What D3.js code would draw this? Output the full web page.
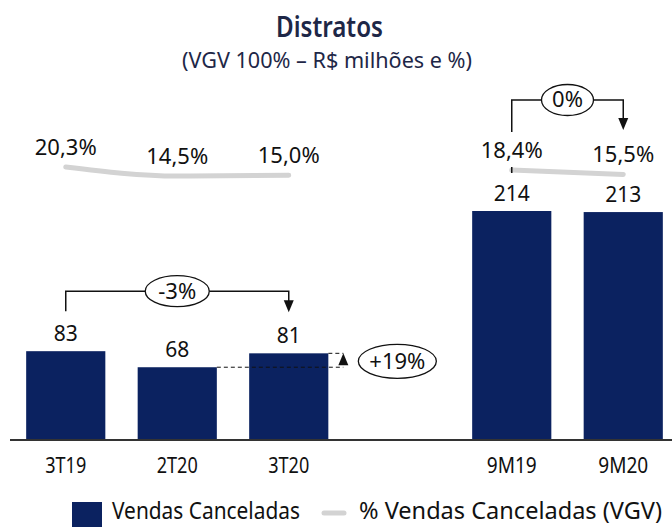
<!DOCTYPE html>
<html>
<head>
<meta charset="utf-8">
<script src="https://cdn.jsdelivr.net/npm/d3@7"></script>
<style>
  html, body { margin: 0; padding: 0; background: #fff; }
  #container { width: 672px; height: 527px; }
  text { font-family: "Noto Sans", "Open Sans", sans-serif; }
</style>
</head>
<body>
<div id="container"></div>
<script>
const width = 672;
const height = 527;

// data
const categories = ["3T19", "2T20", "3T20", "", "9M19", "9M20"];
const quarters = ["3T19", "2T20", "3T20"];
const periods = ["9M19", "9M20"];
const cancelled = { "3T19": 83, "2T20": 68, "3T20": 81, "9M19": 214, "9M20": 213 };
const pctQuarter = [20.3, 14.5, 15.0];
const pctPeriod = [18.4, 15.5];
const changeLabels = ["-3%", "0%", "+19%"];

const navy = "#0b2260";
const grey = "#d3d3d3";
const ink = "#111";

const svg = d3.create("svg")
    .attr("width", width)
    .attr("height", height)
    .attr("viewBox", `0 0 ${width} ${height}`)
    .attr("xmlns", "http://www.w3.org/2000/svg");

const x = d3.scaleBand().domain(categories).range([10, 679])
    .paddingInner(0.29).paddingOuter(0.145);
const y = d3.scaleLinear().domain([0, 214]).range([440, 211]);
const y2 = d3.scaleLinear().domain([0, 20]).range([198.5, 167.5]);
const bw = x.bandwidth();
const cx = c => x(c) + bw / 2;

// triangle arrowhead, tip at (ax, ay), pointing down (dir=1) or up (dir=-1)
function arrowHead(ax, ay, dir) {
    svg.append("path")
        .attr("d", `M${ax - 5},${ay - 12 * dir}L${ax + 5},${ay - 12 * dir}L${ax},${ay}Z`)
        .attr("fill", ink);
}

// title
svg.append("text").attr("x", 329.5).attr("y", 37).attr("text-anchor", "middle")
    .attr("font-size", 29).attr("font-weight", 600).attr("fill", "#1e2747")
    .attr("textLength", 107).attr("lengthAdjust", "spacingAndGlyphs")
    .text("Distratos");
svg.append("text").attr("x", 327).attr("y", 68).attr("text-anchor", "middle")
    .attr("font-size", 21).attr("fill", "#1e2747")
    .attr("textLength", 290).attr("lengthAdjust", "spacingAndGlyphs")
    .text("(VGV 100% – R$ milhões e %)");

// bars
const barKeys = quarters.concat(periods);
svg.append("g").selectAll("rect")
    .data(barKeys)
    .join("rect")
    .attr("x", d => x(d))
    .attr("y", d => y(cancelled[d]))
    .attr("width", bw)
    .attr("height", d => y(0) - y(cancelled[d]))
    .attr("fill", navy);

svg.append("g").selectAll("text")
    .data(barKeys)
    .join("text")
    .attr("x", d => cx(d))
    .attr("y", d => y(cancelled[d]) - 10)
    .attr("text-anchor", "middle")
    .attr("font-size", 21)
    .attr("fill", ink)
    .text(d => cancelled[d]);

// baseline + category labels
svg.append("line").attr("x1", 10).attr("x2", 672).attr("y1", y(0)).attr("y2", y(0))
    .attr("stroke", "#333").attr("stroke-width", 2);
svg.append("g").selectAll("text")
    .data(barKeys)
    .join("text")
    .attr("x", d => cx(d))
    .attr("y", 473)
    .attr("text-anchor", "middle")
    .attr("font-size", 21)
    .attr("fill", ink)
    .attr("textLength", d => d[1] === "M" ? 50 : 41)
    .attr("lengthAdjust", "spacingAndGlyphs")
    .text(d => d);

// % line
const line = d3.line().x(d => cx(d[0])).y(d => y2(d[1])).curve(d3.curveMonotoneX);
const groups = [d3.zip(quarters, pctQuarter), d3.zip(periods, pctPeriod)];
svg.append("g").selectAll("path")
    .data(groups)
    .join("path")
    .attr("d", line)
    .attr("fill", "none")
    .attr("stroke", grey)
    .attr("stroke-width", 5)
    .attr("stroke-linecap", "round");

// small tick under 18,4%
svg.append("line").attr("x1", cx("9M19")).attr("x2", cx("9M19"))
    .attr("y1", y2(pctPeriod[0]) - 3).attr("y2", y2(pctPeriod[0]) + 3)
    .attr("stroke", ink).attr("stroke-width", 1.5);

const fmt = v => v.toFixed(1).replace(".", ",") + "%";
svg.append("g").selectAll("text")
    .data(groups.flat())
    .join("text")
    .attr("x", d => cx(d[0]))
    .attr("y", d => y2(d[1]) - 12)
    .attr("text-anchor", "middle")
    .attr("font-size", 22)
    .attr("fill", ink)
    .text(d => fmt(d[1]));

// bracket annotations
function bracket(a, b, yTop, yA, yB, label, rx) {
    const x1 = cx(a), x2 = cx(b);
    svg.append("path")
        .attr("d", `M${x1},${yA}V${yTop}H${x2}V${yB - 6}`)
        .attr("fill", "none").attr("stroke", ink).attr("stroke-width", 1.5);
    arrowHead(x2, yB, 1);
    const mx = (x1 + x2) / 2;
    svg.append("ellipse").attr("cx", mx).attr("cy", yTop).attr("rx", rx).attr("ry", 15.5)
        .attr("fill", "#fff").attr("stroke", ink).attr("stroke-width", 1.3);
    svg.append("text").attr("x", mx).attr("y", yTop + 7.5).attr("text-anchor", "middle")
        .attr("font-size", 22).attr("fill", ink).text(label);
}
bracket("3T19", "3T20", y(cancelled["3T19"]) - 60, y(cancelled["3T19"]) - 40,
    y(cancelled["3T20"]) - 41, changeLabels[0], 32);
bracket("9M19", "9M20", y2(pctPeriod[0]) - 70, y2(pctPeriod[0]) - 38,
    y2(pctPeriod[0]) - 40, changeLabels[1], 26);

// +19% quarter on quarter
const yLow = y(cancelled["2T20"]);
const yHigh = y(cancelled["3T20"]);
const ax = x("3T20") + bw + 15;
const dash = svg.append("g").attr("stroke", ink).attr("stroke-width", 1).attr("stroke-dasharray", "4,3");
dash.append("line").attr("x1", x("2T20") + bw).attr("x2", ax).attr("y1", yLow).attr("y2", yLow);
dash.append("line").attr("x1", x("3T20") + bw).attr("x2", ax).attr("y1", yHigh).attr("y2", yHigh);
arrowHead(ax, yHigh, -1);
svg.append("ellipse").attr("cx", ax + 54).attr("cy", (yLow + yHigh) / 2 + 1).attr("rx", 39).attr("ry", 17)
    .attr("fill", "#fff").attr("stroke", ink).attr("stroke-width", 1.3);
svg.append("text").attr("x", ax + 54).attr("y", (yLow + yHigh) / 2 + 8.5).attr("text-anchor", "middle")
    .attr("font-size", 22).attr("fill", ink).text(changeLabels[2]);

// legend
svg.append("rect").attr("x", 72).attr("y", 502).attr("width", 30).attr("height", 25).attr("fill", navy);
svg.append("text").attr("x", 112).attr("y", 519).attr("font-size", 24).attr("fill", ink)
    .attr("textLength", 188).attr("lengthAdjust", "spacingAndGlyphs")
    .text("Vendas Canceladas");
svg.append("line").attr("x1", 324).attr("x2", 344).attr("y1", 513).attr("y2", 513)
    .attr("stroke", grey).attr("stroke-width", 5).attr("stroke-linecap", "round");
svg.append("text").attr("x", 359).attr("y", 519).attr("font-size", 24).attr("fill", ink)
    .attr("textLength", 303).attr("lengthAdjust", "spacingAndGlyphs")
    .text("% Vendas Canceladas (VGV)");

document.getElementById("container").append(svg.node());
</script>
</body>
</html>
